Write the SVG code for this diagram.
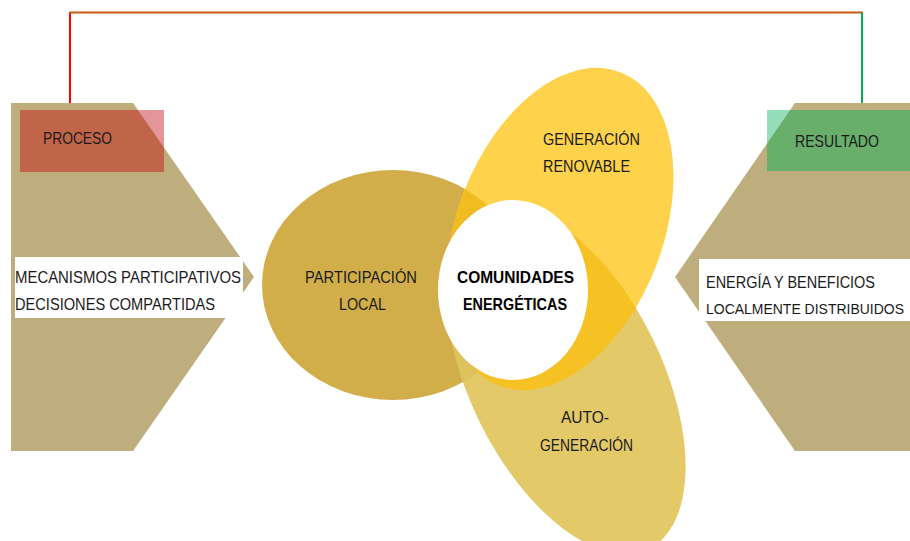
<svg xmlns="http://www.w3.org/2000/svg" width="910" height="541" viewBox="0 0 910 541">
<style>
.t{font-family:"Liberation Sans",Arial,sans-serif;font-size:17px;fill:#1a1a1a}
.b{font-weight:bold;fill:#000}
.chev{fill:#bfae7d}
.conn{fill:none;stroke-width:2}
</style>
<defs>
<clipPath id="cpLeft"><ellipse cx="393" cy="285" rx="131" ry="115"/></clipPath>
<clipPath id="cpTop"><ellipse rx="103" ry="168" transform="translate(560,229) rotate(21)"/></clipPath>
<clipPath id="cpBot"><ellipse rx="96" ry="188" transform="translate(566,380) rotate(-26.2)"/></clipPath>
<clipPath id="cpChevL"><polygon points="11,103 133,103 254,277 133,451 11,451"/></clipPath>
<clipPath id="cpChevR"><polygon points="795,103 910,103 910,451 795,451 675,277"/></clipPath>
</defs>
<rect width="910" height="541" fill="#fff"/>

<g id="connectors">
<polyline class="conn" stroke="#ff0000" points="70,103 70,12.5"/>
<polyline class="conn" stroke="#c55a11" points="69,12.5 863,12.5"/>
<polyline class="conn" stroke="#00b050" points="862,12.5 862,103"/>
</g>

<g id="proceso">
<polygon class="chev" points="11,103 133,103 254,277 133,451 11,451"/>
<rect x="20" y="110" width="144" height="62" fill="#e3969a"/>
<rect x="20" y="110" width="144" height="62" fill="#c0654a" clip-path="url(#cpChevL)"/>
<text class="t" x="43" y="144" textLength="69" lengthAdjust="spacingAndGlyphs">PROCESO</text>
<rect x="15" y="257" width="228" height="61" fill="#fff"/>
<text class="t" x="15" y="283" textLength="226" lengthAdjust="spacingAndGlyphs">MECANISMOS PARTICIPATIVOS</text>
<text class="t" x="15" y="310" textLength="200" lengthAdjust="spacingAndGlyphs">DECISIONES COMPARTIDAS</text>
</g>

<g id="resultado">
<polygon class="chev" points="795,103 910,103 910,451 795,451 675,277"/>
<rect x="767" y="110" width="143" height="61" fill="#95dcb8"/>
<rect x="767" y="110" width="143" height="61" fill="#6aae6c" clip-path="url(#cpChevR)"/>
<text class="t" x="795" y="147" textLength="84" lengthAdjust="spacingAndGlyphs">RESULTADO</text>
<rect x="699" y="259" width="211" height="62" fill="#fff"/>
<text class="t" x="706" y="288" textLength="169" lengthAdjust="spacingAndGlyphs">ENERGÍA Y BENEFICIOS</text>
<text class="t" x="706" y="314" style="font-size:14px" textLength="198" lengthAdjust="spacingAndGlyphs">LOCALMENTE DISTRIBUIDOS</text>
</g>

<g id="participacion-local">
<ellipse cx="393" cy="285" rx="131" ry="115" fill="#d2ae4b"/>
</g>

<g id="generacion-renovable">
<ellipse rx="103" ry="168" transform="translate(560,229) rotate(21)" fill="#fed24a"/>
</g>

<g id="auto-generacion">
<ellipse rx="96" ry="188" transform="translate(566,380) rotate(-26.2)" fill="#e3c967"/>
</g>

<g id="overlaps">
<g clip-path="url(#cpLeft)"><ellipse rx="96" ry="188" transform="translate(566,380) rotate(-26.2)" fill="#dfc15d"/></g>
<g clip-path="url(#cpLeft)"><ellipse rx="103" ry="168" transform="translate(560,229) rotate(21)" fill="#f1bc20"/></g>
<g clip-path="url(#cpBot)"><ellipse rx="103" ry="168" transform="translate(560,229) rotate(21)" fill="#f6c122"/></g>
</g>

<g id="labels">
<text class="t" x="305" y="283" textLength="112" lengthAdjust="spacingAndGlyphs">PARTICIPACIÓN</text>
<text class="t" x="339" y="310" textLength="47" lengthAdjust="spacingAndGlyphs">LOCAL</text>
<text class="t" x="543" y="145" textLength="97" lengthAdjust="spacingAndGlyphs">GENERACIÓN</text>
<text class="t" x="543" y="172" textLength="87" lengthAdjust="spacingAndGlyphs">RENOVABLE</text>
<text class="t" x="561" y="423" textLength="48" lengthAdjust="spacingAndGlyphs">AUTO-</text>
<text class="t" x="540" y="451" textLength="93" lengthAdjust="spacingAndGlyphs">GENERACIÓN</text>
</g>

<g id="comunidades-energeticas">
<ellipse cx="513" cy="290" rx="75" ry="90" fill="#fff"/>
<text class="t b" x="457" y="283" textLength="117" lengthAdjust="spacingAndGlyphs">COMUNIDADES</text>
<text class="t b" x="463" y="310" textLength="104" lengthAdjust="spacingAndGlyphs">ENERGÉTICAS</text>
</g>
</svg>
